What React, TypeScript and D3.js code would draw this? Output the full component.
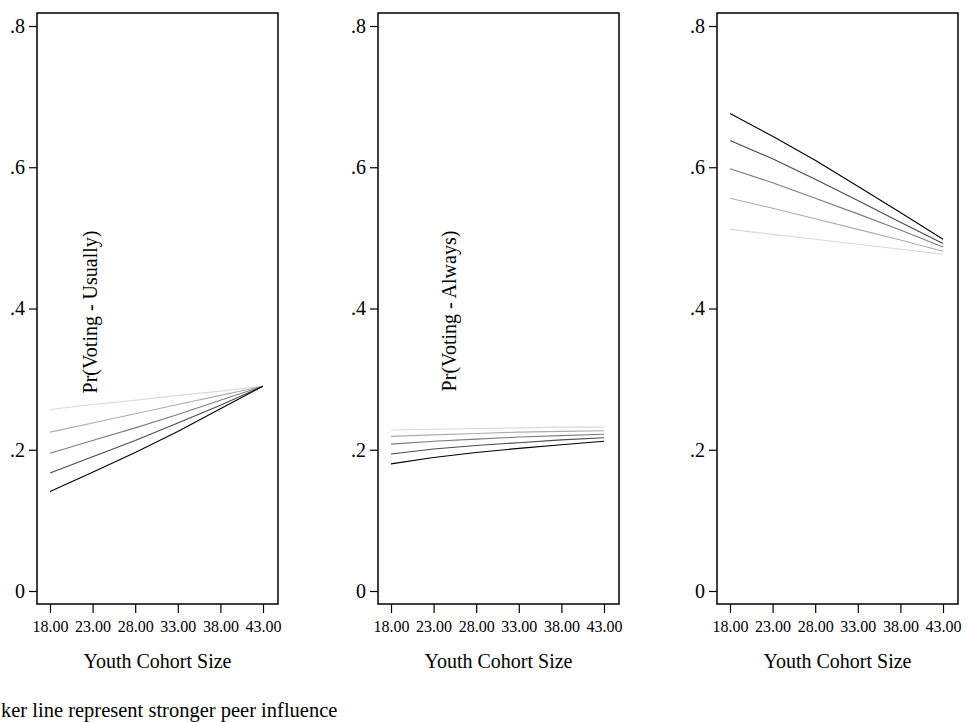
import React, { useEffect, useRef } from 'react';
import * as d3 from 'd3';

// youth cohort size (x) and probability ticks (y)
const cohortSizes = [18, 23, 28, 33, 38, 43];
const probTicks = [0, 0.2, 0.4, 0.6, 0.8];

// each panel: five lines, strongest peer influence (darkest) first
const usuallySeries = [
  [0.141, 0.168, 0.196, 0.226, 0.258, 0.290],
  [0.167, 0.190, 0.213, 0.238, 0.263, 0.290],
  [0.195, 0.213, 0.231, 0.250, 0.270, 0.290],
  [0.225, 0.238, 0.251, 0.264, 0.277, 0.290],
  [0.257, 0.264, 0.270, 0.277, 0.283, 0.290],
];
const alwaysSeries = [
  [0.180, 0.189, 0.196, 0.202, 0.207, 0.212],
  [0.194, 0.201, 0.206, 0.210, 0.214, 0.217],
  [0.208, 0.212, 0.215, 0.218, 0.220, 0.222],
  [0.219, 0.221, 0.223, 0.225, 0.226, 0.227],
  [0.228, 0.229, 0.230, 0.231, 0.232, 0.232],
];
const thirdSeries = [
  [0.676, 0.644, 0.610, 0.573, 0.536, 0.498],
  [0.638, 0.612, 0.583, 0.553, 0.522, 0.492],
  [0.598, 0.578, 0.556, 0.534, 0.511, 0.487],
  [0.556, 0.542, 0.527, 0.512, 0.497, 0.481],
  [0.512, 0.505, 0.498, 0.491, 0.484, 0.477],
];
const shades = ['#000000', '#4a4a4a', '#7c7c7c', '#acacac', '#d9d9d9'];

const panelSeries = [usuallySeries, alwaysSeries, thirdSeries];
const panelLabels = ['Pr(Voting - Usually)', 'Pr(Voting - Always)', ''];
const xTitle = 'Youth Cohort Size';
// the reference shows this note clipped at the left edge
const note = 'ker line represent stronger peer influence';

const App = () => {
  const svgRef = useRef<SVGSVGElement>(null);

  useEffect(() => {
    const width = 968;
    const height = 722;
    const font = '"Liberation Serif", "Times New Roman", serif';
    const panelLefts = [37, 378, 717];
    const panelWidth = 241;
    const frameTop = 13;
    const frameBottom = 604;
    const pad = 13;
    const labelPos = [[90, 312], [449, 311]];

    const svg = d3.select(svgRef.current)
      .attr('width', width)
      .attr('height', height)
      .attr('viewBox', [0, 0, width, height])
      .style('font-family', font);
    svg.selectAll('*').remove();
    svg.append('rect').attr('width', width).attr('height', height).attr('fill', '#fff');

    const y = d3.scaleLinear().domain([0, 0.8]).range([591, 26]);
    const yFmt = (v: number) => (v === 0 ? '0' : d3.format('.1f')(v).replace(/^0/, ''));

    panelSeries.forEach((series, p) => {
      const left = panelLefts[p];
      const x = d3.scaleLinear()
        .domain([18, 43])
        .range([left + pad, left + panelWidth - pad - 2]);
      const g = svg.append('g');

      const line = d3.line<number>()
        .x((_, i) => x(cohortSizes[i]))
        .y((d) => y(d));

      // lighter lines under darker ones
      series.slice().reverse().forEach((vals, k) => {
        g.append('path')
          .attr('d', line(vals))
          .attr('fill', 'none')
          .attr('stroke', shades[series.length - 1 - k])
          .attr('stroke-width', 1.1);
      });

      g.append('rect')
        .attr('x', left)
        .attr('y', frameTop)
        .attr('width', panelWidth)
        .attr('height', frameBottom - frameTop)
        .attr('fill', 'none')
        .attr('stroke', '#000')
        .attr('stroke-width', 1.5);

      // y axis
      g.append('g')
        .attr('transform', `translate(${left},0)`)
        .call(d3.axisLeft(y).tickValues(probTicks).tickSize(8).tickPadding(4).tickFormat((d) => yFmt(+d)))
        .call((a) => a.select('.domain').remove())
        .call((a) => a.selectAll('line').attr('stroke', '#000').attr('stroke-width', 1.2))
        .call((a) => a.selectAll('text')
          .attr('font-family', font)
          .attr('font-size', 20)
          .attr('fill', '#000'));

      // x axis
      g.append('g')
        .attr('transform', `translate(0,${frameBottom})`)
        .call(d3.axisBottom(x).tickValues(cohortSizes).tickSize(9).tickPadding(8).tickFormat(d3.format('.2f')))
        .call((a) => a.select('.domain').remove())
        .call((a) => a.selectAll('line').attr('stroke', '#000').attr('stroke-width', 1.2))
        .call((a) => a.selectAll('text')
          .attr('font-family', font)
          .attr('font-size', 16)
          .attr('fill', '#000'));

      g.append('text')
        .attr('x', left + panelWidth / 2)
        .attr('y', 668)
        .attr('text-anchor', 'middle')
        .attr('font-size', 20)
        .text(xTitle);

      if (panelLabels[p]) {
        const [lx, ly] = labelPos[p];
        g.append('text')
          .attr('transform', `translate(${lx},${ly}) rotate(-90)`)
          .attr('text-anchor', 'middle')
          .attr('dy', '0.35em')
          .attr('font-size', 20)
          .text(panelLabels[p]);
      }
    });

    svg.append('text')
      .attr('x', 1)
      .attr('y', 717)
      .attr('font-size', 20.5)
      .text(note);
  }, []);

  return (
    <svg ref={svgRef} style={{ position: 'absolute', left: 0, top: 0 }}></svg>
  );
};

export default App;
